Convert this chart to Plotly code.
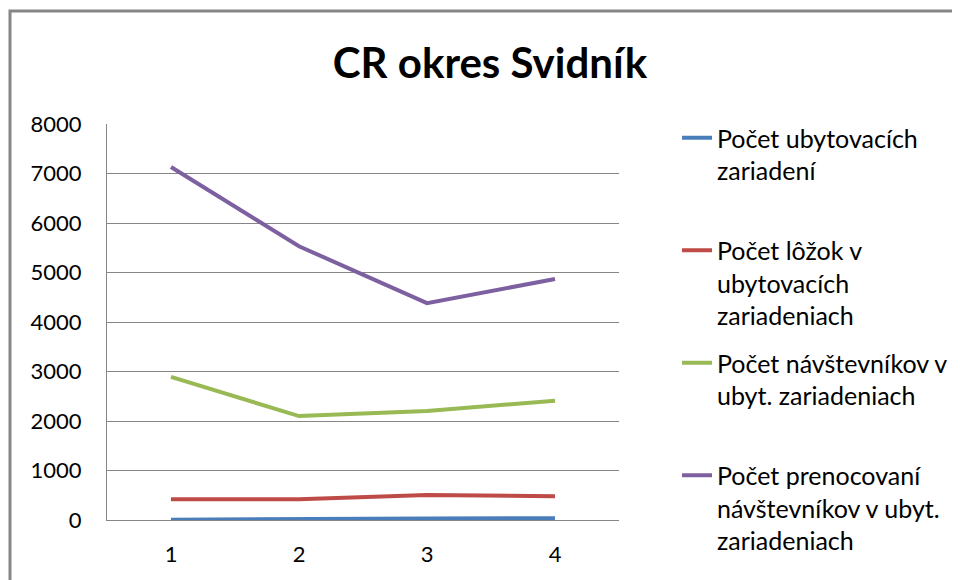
import plotly.graph_objects as go

categories = [1, 2, 3, 4]
ubytovacie_zariadenia = [5, 8, 30, 35]
lozka = [420, 420, 505, 480]
navstevnici = [2890, 2100, 2200, 2410]
prenocovania = [7130, 5530, 4380, 4870]

PAD = "<br><span style='color:rgba(0,0,0,0)'>.</span>"
series_names = [
    "Počet ubytovacích<br>zariadení" + PAD,
    "Počet lôžok v<br>ubytovacích<br>zariadeniach",
    "Počet návštevníkov v<br>ubyt. zariadeniach" + PAD,
    "Počet prenocovaní<br>návštevníkov v ubyt.<br>zariadeniach",
]
series_values = [ubytovacie_zariadenia, lozka, navstevnici, prenocovania]
series_colors = ["#4a7ebb", "#be4b48", "#98b954", "#7d60a0"]

y_ticks = [0, 1000, 2000, 3000, 4000, 5000, 6000, 7000, 8000]

FONT = "Lato, 'Open Sans', sans-serif"
OFF = 8  # page body margin
W, H = 960 - OFF, 580 - OFF
L, T = 107 - OFF, 124 - OFF
R = W - (619 - OFF)
B = H - (520 - OFF)
pw, ph = W - L - R, H - T - B

fig = go.Figure()
for i, (name, vals, col) in enumerate(zip(series_names, series_values, series_colors)):
    fig.add_trace(go.Scatter(
        x=categories, y=vals, name=name, mode="lines", legendgroup=f"g{i}",
        line=dict(color=col, width=4),
    ))

def px_x(p):
    return (p - OFF - L) / pw

def px_y(p):
    return 1 - (p - OFF - T) / ph

fig.update_layout(
    width=W, height=H,
    margin=dict(l=L, r=R, t=T, b=B, autoexpand=False),
    paper_bgcolor="white", plot_bgcolor="white",
    font=dict(family=FONT, size=22, color="black"),
    title=dict(text="<b>CR okres Svidník</b>", x=(490 - OFF) / W, xanchor="center",
               y=1 - (63 - OFF) / H, yanchor="middle",
               font=dict(family=FONT, size=42, color="black")),
    showlegend=True,
    legend=dict(
        x=px_x(677), xanchor="left", y=px_y(115), yanchor="top",
        valign="top", tracegroupgap=12, maxheight=560,
        font=dict(family=FONT, size=25, color="black"),
        bgcolor="rgba(0,0,0,0)", itemwidth=30,
    ),
    xaxis=dict(
        range=[0.5, 4.5], tickvals=categories, ticktext=[str(c) for c in categories],
        showgrid=False, zeroline=False, showline=True, linecolor="#868686", linewidth=1,
        ticks="", ticklabelstandoff=15, tickfont=dict(size=22),
    ),
    yaxis=dict(
        range=[0, 8000], tickvals=y_ticks, ticktext=[str(v) for v in y_ticks],
        showgrid=True, gridcolor="#868686", gridwidth=1,
        zeroline=False, showline=True, linecolor="#868686", linewidth=1,
        ticks="", ticklabelstandoff=20, tickfont=dict(size=22),
    ),
    shapes=[dict(
        type="rect", xref="paper", yref="paper",
        x0=px_x(10), x1=px_x(975), y0=px_y(11), y1=px_y(600),
        line=dict(color="#868686", width=3), fillcolor="rgba(0,0,0,0)", layer="below",
    )],
)

fig.write_html("out.html")
